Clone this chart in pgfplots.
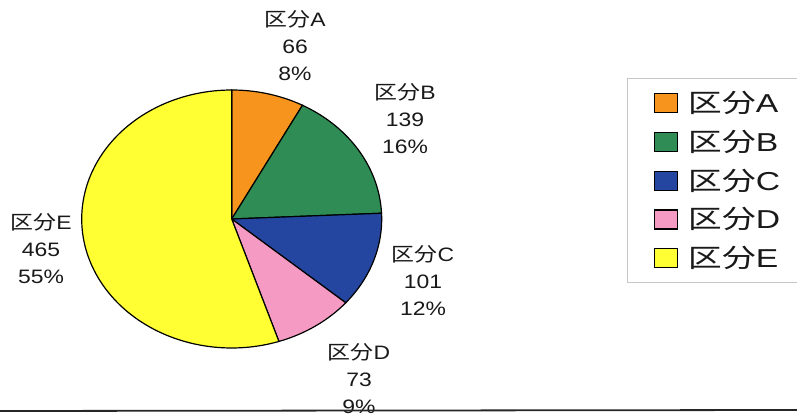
\documentclass[border=0pt]{standalone}
\usepackage{pgfplots}
\pgfplotsset{compat=1.18}
\usepackage{fontspec}
\setmainfont{Liberation Sans}
\newfontfamily\cjk{Noto Sans CJK JP}
\definecolor{cA}{RGB}{247,148,30}
\definecolor{cB}{RGB}{46,140,84}
\definecolor{cC}{RGB}{36,70,160}
\definecolor{cD}{RGB}{245,155,195}
\definecolor{cE}{RGB}{255,255,51}
\definecolor{txt}{RGB}{25,25,25}
\newcommand\kb[1]{{\cjk 区分}#1}
\newcommand\legtxt[1]{\makebox[112bp][l]{\scalebox{1.3}[1]{\kb{#1}}}}
% data
\def\vA{66}\def\vB{139}\def\vC{101}\def\vD{73}\def\vE{465}
\pgfmathsetmacro\tot{\vA+\vB+\vC+\vD+\vE}
\pgfmathsetmacro\sA{90}
\pgfmathsetmacro\eA{\sA-360*(\vA/\tot)}
\pgfmathsetmacro\eB{\eA-360*(\vB/\tot)}
\pgfmathsetmacro\eC{\eB-360*(\vC/\tot)}
\pgfmathsetmacro\eD{\eC-360*(\vD/\tot)}
\pgfmathsetmacro\eE{\eD-360*(\vE/\tot)}
\def\cx{231.7}\def\cy{200}\def\rx{150}\def\ry{129}
\newcommand\lbl[5]{\node[text=txt,font=\fontsize{19.5}{27}\selectfont] at (axis cs:#1,#2)
  {\scalebox{1.18}[1]{\begin{tabular}{@{}c@{}}\kb{#3}\\#4\\#5\end{tabular}}};}
\begin{document}
\begin{tikzpicture}
\path[use as bounding box] (0,0) rectangle (797bp,419bp);
\begin{axis}[
  scale only axis, width=797bp, height=419bp,
  xmin=0, xmax=797, ymin=0, ymax=419,
  hide axis, clip=false,
  legend image code/.code={\draw[#1,draw=black,line width=1.1pt] (0bp,-10bp) rectangle (23bp,9bp);},
  legend style={at={(627/797,1-78/419)}, anchor=north west, draw=black!22, line width=0.7pt,
    font=\fontsize{26}{30}\selectfont, row sep=12bp, column sep=8bp, inner xsep=27bp, inner ysep=11bp,
    cells={anchor=west}, text=txt},
]
\addplot[fill=cA, draw=black, line width=1.2pt, domain=\eA:\sA, samples=30, variable=\t]
  ({\cx+\rx*cos(\t)},{\cy+\ry*sin(\t)}) -- (axis cs:\cx,\cy) -- cycle;
\addlegendentry{\legtxt A}
\addplot[fill=cB, draw=black, line width=1.2pt, domain=\eB:\eA, samples=40, variable=\t]
  ({\cx+\rx*cos(\t)},{\cy+\ry*sin(\t)}) -- (axis cs:\cx,\cy) -- cycle;
\addlegendentry{\legtxt B}
\addplot[fill=cC, draw=black, line width=1.2pt, domain=\eC:\eB, samples=40, variable=\t]
  ({\cx+\rx*cos(\t)},{\cy+\ry*sin(\t)}) -- (axis cs:\cx,\cy) -- cycle;
\addlegendentry{\legtxt C}
\addplot[fill=cD, draw=black, line width=1.2pt, domain=\eD:\eC, samples=30, variable=\t]
  ({\cx+\rx*cos(\t)},{\cy+\ry*sin(\t)}) -- (axis cs:\cx,\cy) -- cycle;
\addlegendentry{\legtxt D}
\addplot[fill=cE, draw=black, line width=1.2pt, domain=\eE:\eD, samples=120, variable=\t]
  ({\cx+\rx*cos(\t)},{\cy+\ry*sin(\t)}) -- (axis cs:\cx,\cy) -- cycle;
\addlegendentry{\legtxt E}
\lbl{295}{371}{A}{66}{8\%}
\lbl{405}{298}{B}{139}{16\%}
\lbl{423}{136}{C}{101}{12\%}
\lbl{359}{38}{D}{73}{9\%}
\lbl{41}{168}{E}{465}{55\%}
\draw[line width=1.8pt, black!85] (axis cs:0,8) -- (axis cs:797,9);
\end{axis}
\end{tikzpicture}
\end{document}
